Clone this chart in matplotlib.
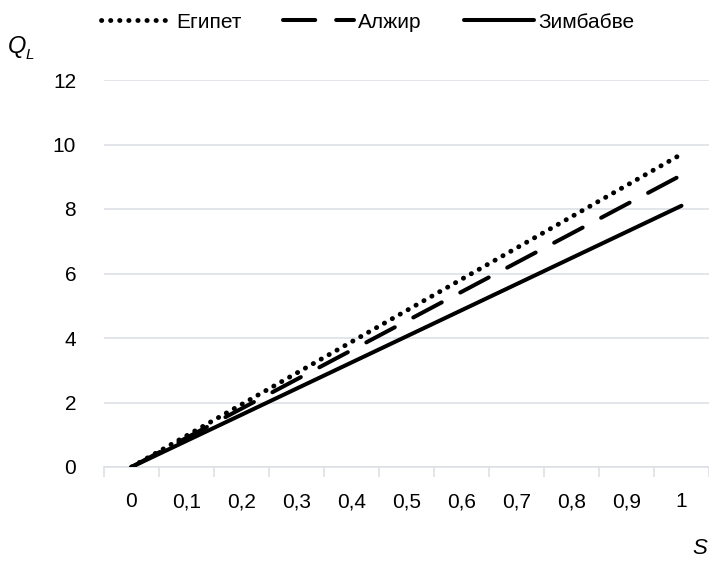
import numpy as np
import matplotlib.pyplot as plt
from matplotlib import font_manager

names = {f.name for f in font_manager.fontManager.ttflist}
fam = 'Liberation Sans Narrow' if 'Liberation Sans Narrow' in names else 'Liberation Sans'
plt.rcParams['font.family'] = [fam, 'DejaVu Sans']

# data
s_labels = ['0', '0,1', '0,2', '0,3', '0,4', '0,5', '0,6', '0,7', '0,8', '0,9', '1']
egypt = [0, 0.97, 1.94, 2.91, 3.88, 4.85, 5.82, 6.79, 7.76, 8.73, 9.70]
algeria = [0, 0.905, 1.81, 2.715, 3.62, 4.525, 5.43, 6.335, 7.24, 8.145, 9.05]
zimbabwe = [0, 0.81, 1.62, 2.43, 3.24, 4.05, 4.86, 5.67, 6.48, 7.29, 8.10]

fig = plt.figure(figsize=(7.09, 5.65), dpi=100)
ax = fig.add_axes([104 / 709, 1 - 467 / 565, (709 - 104) / 709, (467 - 80) / 565])

x = np.arange(len(s_labels))
grid_c = '#dde1e7'
ax.plot(x, egypt, color='black', lw=3.5, linestyle=(0, (0.05, 1.82)),
        dash_capstyle='round', label='Египет', zorder=3)
ax.plot(x, algeria, color='black', lw=2.9, linestyle=(0, (8, 5.2)),
        dash_capstyle='round', label='Алжир', zorder=3)
ax.plot(x, zimbabwe, color='black', lw=2.9, solid_capstyle='round',
        label='Зимбабве', zorder=3)

ax.set_xlim(-0.5, len(s_labels) - 0.5)
ax.set_ylim(0, 12)
ax.set_yticks(range(0, 13, 2))
ax.set_xticks(np.arange(-0.5, len(s_labels), 1), minor=True)
ax.set_xticks(x)
ax.set_xticklabels(s_labels, va='baseline')
ax.tick_params(axis='x', which='major', length=0, pad=29, labelsize=15)
ax.tick_params(axis='x', which='minor', length=7, width=1.2, color=grid_c)
ax.tick_params(axis='y', length=0, pad=20, labelsize=15)
ax.grid(axis='y', color=grid_c, lw=1.2)
ax.set_axisbelow(True)
for sp in ['top', 'right', 'left']:
    ax.spines[sp].set_visible(False)
ax.spines['bottom'].set_color(grid_c)
ax.spines['bottom'].set_linewidth(1.2)

# axis names
fig.text(26 / 709, 1 - 47 / 565, 'Q', fontsize=17, fontstyle='italic', ha='right', va='center')
fig.text(26 / 709, 1 - 55 / 565, 'L', fontsize=11, fontstyle='italic', ha='left', va='center')
fig.text(700 / 709, 1 - 548 / 565, 'S', fontsize=16, fontstyle='italic', ha='center', va='center')

fig.legend(loc='center', bbox_to_anchor=(368 / 709, 1 - 22 / 565), ncol=3, frameon=False,
           fontsize=15, handlelength=3.4, columnspacing=2.0, handletextpad=0.2)

fig.canvas.draw()
for t in ax.get_xticklabels():
    t.set_verticalalignment('baseline')

fig.savefig('out.png', dpi=100)
